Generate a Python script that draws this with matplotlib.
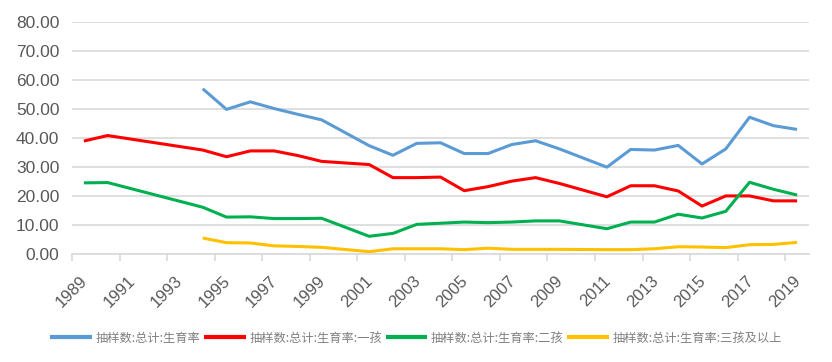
import numpy as np
import matplotlib
matplotlib.use("Agg")
import matplotlib.pyplot as plt
import matplotlib.transforms as mtrans

plt.rcParams['font.family'] = ['Liberation Sans', 'DejaVu Sans']

years = list(range(1989, 2020))

# None = no data for that year (line is drawn straight across the gap)
total = [None, None, None, None, None, 56.9, 49.8, 52.4, 50.1, 48.1,
         46.2, None, 37.3, 34.0, 38.1, 38.3, 34.6, 34.6, 37.7, 39.0,
         36.2, None, 29.9, 36.0, 35.8, 37.4, 31.0, 36.2, 47.1, 44.2, 42.9]
first = [38.9, 40.8, None, None, None, 35.8, 33.5, 35.5, 35.5, 33.9,
         31.9, None, 30.8, 26.3, 26.3, 26.5, 21.8, 23.2, 25.1, 26.3,
         24.3, None, 19.7, 23.5, 23.5, 21.7, 16.5, 20.0, 20.0, 18.3, 18.3]
second = [24.5, 24.6, None, None, None, 16.1, 12.7, 12.8, 12.2, 12.2,
          12.3, None, 6.1, 7.1, 10.2, 10.6, 11.0, 10.8, 11.0, 11.4,
          11.4, None, 8.7, 11.0, 11.0, 13.7, 12.4, 14.7, 24.7, 22.3, 20.3]
third = [None, None, None, None, None, 5.5, 3.9, 3.8, 2.8, 2.6,
         2.3, None, 0.8, 1.8, 1.8, 1.8, 1.5, 2.0, 1.6, 1.6,
         1.6, None, 1.5, 1.5, 1.8, 2.5, 2.4, 2.2, 3.2, 3.3, 4.0]

labels = ['抽样数:总计:生育率', '抽样数:总计:生育率:一孩',
          '抽样数:总计:生育率:二孩', '抽样数:总计:生育率:三孩及以上']
colors = ['#5B9BD5', '#FF0000', '#00B050', '#FFC000']

fig = plt.figure(figsize=(8.32, 3.62), dpi=100)
ax = fig.add_axes([72 / 832, 1 - 254 / 362, 737 / 832, 232.3 / 362])

for series, lab, col in zip([total, first, second, third], labels, colors):
    idx = [i for i, v in enumerate(series) if v is not None]
    vals = [series[i] for i in idx]
    ax.plot(idx, vals, color=col, lw=2.2, label=lab, solid_capstyle='butt')

ax.set_xlim(-0.5, len(years) - 0.5)
ax.set_ylim(0, 80)
ax.set_yticks(np.arange(0, 81, 10))
ax.set_yticklabels(['%.2f' % v for v in np.arange(0, 81, 10)])
ax.yaxis.grid(True, color='#d9d9d9', lw=1.2)
ax.set_axisbelow(True)

for s in ['left', 'right', 'top']:
    ax.spines[s].set_visible(False)
ax.spines['bottom'].set_color('#d9d9d9')
ax.spines['bottom'].set_linewidth(1.2)

ax.set_xticks(range(0, len(years), 2))
ax.set_xticklabels([str(y) for y in years[::2]], rotation=45, ha='right',
                   va='top', rotation_mode='anchor')
ax.set_xticks(np.arange(-0.5, len(years) - 0.5, 2), minor=True)
ax.tick_params(axis='x', which='major', length=0, pad=14, labelsize=12,
               labelcolor='#595959')
ax.tick_params(axis='x', which='minor', length=5, width=1.2, color='#d9d9d9')
ax.tick_params(axis='y', length=0, pad=9, labelsize=12.5, labelcolor='#595959')

shift = mtrans.ScaledTranslation(-4 / 100, 0, fig.dpi_scale_trans)
for lbl in ax.get_xticklabels():
    lbl.set_transform(lbl.get_transform() + shift)

leg = fig.legend(loc='center', bbox_to_anchor=(0.5, 1 - 338 / 362), ncol=4,
                 frameon=False, handlelength=3.4, handletextpad=0.3,
                 columnspacing=0.3,
                 prop={'family': ['Noto Sans CJK SC', 'DejaVu Sans'], 'size': 8.8})
for t in leg.get_texts():
    t.set_color('#808080')
for h in leg.get_lines():
    h.set_linewidth(3)

fig.savefig('out.png', dpi=100)
